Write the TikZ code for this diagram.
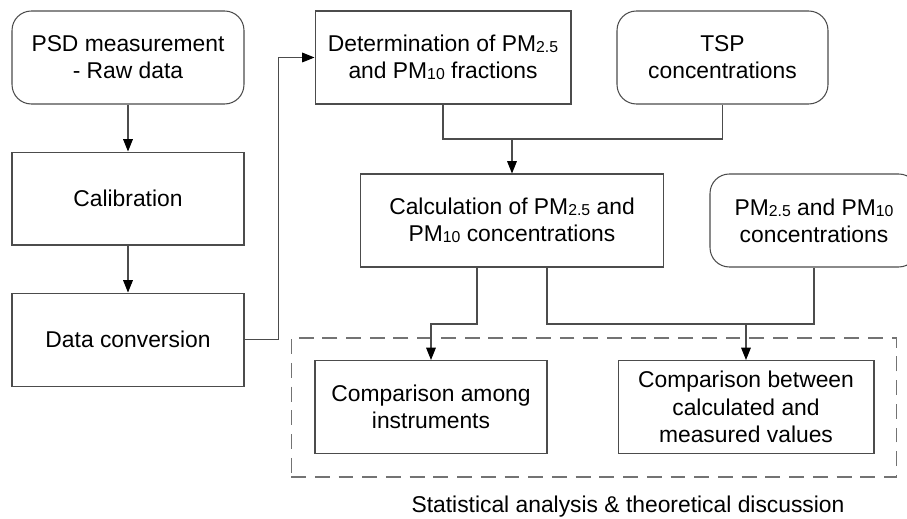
\documentclass[tikz,border=0pt]{standalone}
\usepackage{fontspec}
\setsansfont{Liberation Sans}
\usetikzlibrary{arrows.meta,positioning}
\newcommand{\lowsub}[1]{{\fontsize{9}{9}\selectfont\raisebox{-0.6pt}{#1}}}
\tikzset{
  basic/.style  = {draw=black!70, line width=0.6pt, font=\sffamily\fontsize{13}{15.5}\selectfont,
                   rectangle, align=center, minimum height=1.86cm, inner sep=0pt},
  round box/.style = {basic, rounded corners=11pt},
  link/.style   = {draw=black!70, line width=0.6pt},
  arrow/.style  = {link, -{Triangle[length=7pt,width=5.5pt,black]}}
}

\begin{document}
\begin{tikzpicture}[x=0.02cm,y=-0.02cm,node distance=0.94cm]
\clip (0,0) rectangle (907,519);
% left column
\node[round box, minimum width=4.64cm] (psd) at (128,57.5) {PSD measurement\\- Raw data};
\node[basic, minimum width=4.64cm, below=of psd] (calib) {Calibration};
\node[basic, minimum width=4.64cm, below=of calib] (conv) {Data conversion};
% upper row
\node[basic, minimum width=5.12cm] (determ) at (443,57.5) {Determination of PM\lowsub{2.5}\\and PM\lowsub{10} fractions};
\node[round box, minimum width=4.22cm] (tsp) at (722.5,57.5) {TSP\\concentrations};
% middle row
\node[basic, minimum width=6.06cm] (calc) at (512,220.5) {Calculation of PM\lowsub{2.5} and\\PM\lowsub{10} concentrations};
\node[round box, minimum width=4.16cm] (pm) at (814,220.5) {PM\lowsub{2.5} and PM\lowsub{10}\\concentrations};
% statistical analysis
\node[basic, minimum width=4.64cm] (cmp1) at (431,407) {Comparison among\\instruments};
\node[basic, minimum width=5.12cm] (cmp2) at (746,407) {Comparison between\\calculated and\\measured values};
\node[draw=black!55, line width=0.6pt, dash pattern=on 8.5pt off 5pt, minimum width=12.12cm, minimum height=2.78cm] (stat) at (594,407.5) {};
\node[font=\sffamily\fontsize{13}{15.5}\selectfont] (statlabel) at (628,507) {Statistical analysis \& theoretical discussion};

\coordinate (j1) at (512,139);
\coordinate (j2) at (431,324);
\coordinate (j3) at (746,324);

\draw[arrow] (psd) -- (calib);
\draw[arrow] (calib) -- (conv);
\draw[arrow] (conv.east) -- ++(34,0) |- (determ.west);
\draw[link] (determ.south) |- (j1) -| (tsp.south);
\draw[arrow] (j1) -- (calc.north);
\draw[arrow] ([xshift=-0.7cm]calc.south) |- (j2) -- (cmp1.north);
\draw[link] ([xshift=0.7cm]calc.south) |- (j3) -| (pm.south);
\draw[arrow] (j3) -- (cmp2.north);
\end{tikzpicture}
\end{document}
